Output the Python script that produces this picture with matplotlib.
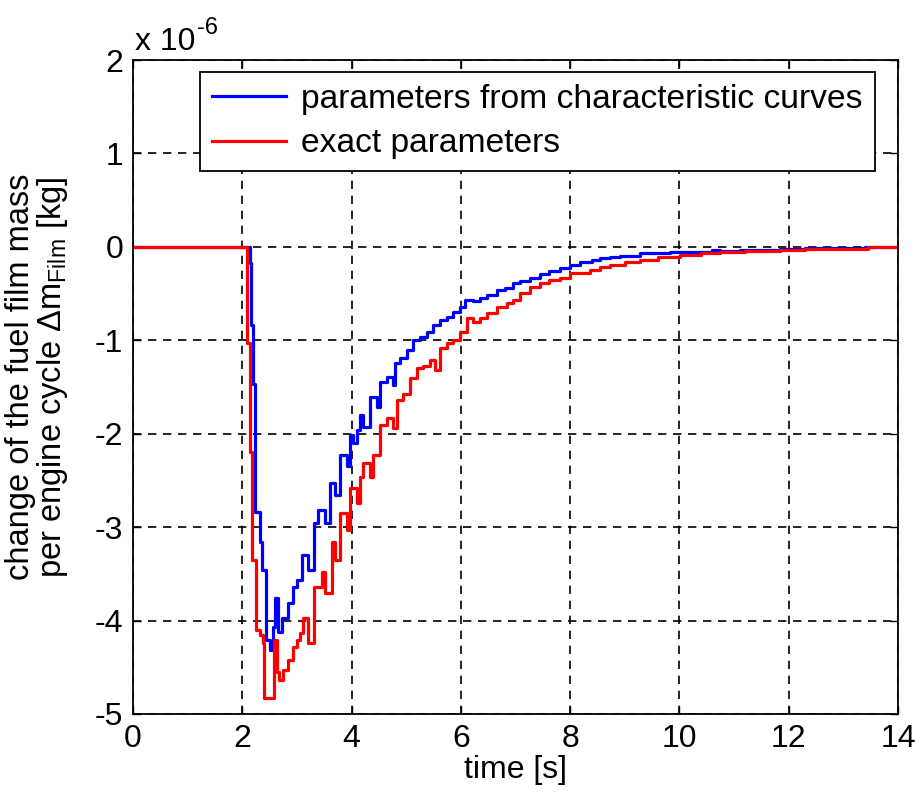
"""Fuel film mass change per engine cycle: characteristic-curve vs exact parameters."""
import matplotlib
matplotlib.use("Agg")
import matplotlib.pyplot as plt

plt.rcParams["font.family"] = ["Liberation Sans", "DejaVu Sans"]
plt.rcParams["mathtext.fontset"] = "custom"
plt.rcParams["mathtext.rm"] = "Liberation Sans"
plt.rcParams["mathtext.it"] = "Liberation Sans:italic"
plt.rcParams["axes.unicode_minus"] = False

# step breakpoints (time [s], delta m_film [x 1e-6 kg]), held until next breakpoint
t_curves = [0, 2.14, 2.15, 2.19, 2.24, 2.32, 2.36, 2.43, 2.50, 2.56, 2.60, 2.65,
            2.73, 2.84, 2.93, 3.00, 3.09, 3.20, 3.31, 3.39, 3.51, 3.61, 3.70,
            3.79, 3.92, 3.97, 4.03, 4.10, 4.15, 4.21, 4.34, 4.47, 4.52, 4.65,
            4.76, 4.80, 4.89, 5.02, 5.12, 5.25, 5.38, 5.49, 5.62, 5.75, 5.86,
            5.99, 6.08, 6.22, 6.35, 6.48, 6.66, 6.81, 6.96, 7.08, 7.27, 7.45,
            7.62, 7.82, 8.00, 8.18, 8.40, 8.55, 8.73, 8.91, 9.28, 9.60, 9.83,
            10.38, 10.60, 10.75, 11.11, 11.50, 11.84, 12.30, 12.76, 13.40, 14.0]
dm_curves = [0, -0.17, -0.84, -1.47, -2.84, -3.16, -3.46, -4.21, -4.31, -4.07,
             -3.76, -4.12, -3.97, -3.81, -3.64, -3.57, -3.30, -3.46, -2.96,
             -2.82, -2.96, -2.53, -2.66, -2.23, -2.35, -2.01, -2.10, -1.96,
             -1.80, -1.93, -1.61, -1.71, -1.45, -1.39, -1.48, -1.24, -1.19,
             -1.10, -1.00, -0.97, -0.91, -0.84, -0.78, -0.75, -0.70, -0.64,
             -0.57, -0.58, -0.55, -0.51, -0.46, -0.44, -0.39, -0.37, -0.33,
             -0.29, -0.26, -0.23, -0.19, -0.16, -0.14, -0.12, -0.11, -0.10,
             -0.07, -0.065, -0.06, -0.05, -0.03, -0.045, -0.035, -0.03, -0.02,
             -0.015, -0.01, 0, 0]

t_exact = [0, 2.09, 2.14, 2.18, 2.25, 2.32, 2.38, 2.40, 2.58, 2.63, 2.67, 2.75,
           2.84, 2.93, 3.00, 3.06, 3.11, 3.20, 3.31, 3.46, 3.51, 3.64, 3.70,
           3.79, 3.92, 3.97, 4.10, 4.15, 4.21, 4.34, 4.39, 4.52, 4.65, 4.76,
           4.83, 4.94, 5.07, 5.20, 5.31, 5.44, 5.53, 5.62, 5.75, 5.86, 5.99,
           6.11, 6.22, 6.35, 6.48, 6.66, 6.85, 6.96, 7.08, 7.27, 7.45, 7.62,
           7.82, 8.00, 8.36, 8.55, 8.73, 9.00, 9.28, 9.60, 10.01, 10.40, 10.74,
           11.20, 11.84, 12.30, 12.76, 13.45, 14.0]
dm_exact = [0, -1.03, -2.20, -3.35, -4.10, -4.15, -4.24, -4.83, -4.21, -4.55,
            -4.64, -4.53, -4.42, -4.28, -4.21, -4.13, -3.97, -4.24, -3.64,
            -3.48, -3.70, -3.16, -3.35, -2.85, -3.03, -2.58, -2.74, -2.46,
            -2.31, -2.46, -2.23, -1.91, -1.83, -1.94, -1.64, -1.58, -1.40,
            -1.30, -1.28, -1.21, -1.32, -1.08, -1.03, -1.00, -0.91, -0.76,
            -0.80, -0.76, -0.71, -0.64, -0.60, -0.57, -0.49, -0.43, -0.39,
            -0.36, -0.33, -0.28, -0.25, -0.22, -0.19, -0.165, -0.14, -0.11,
            -0.09, -0.07, -0.06, -0.045, -0.035, -0.025, -0.02, 0, 0]

labels = ["parameters from characteristic curves", "exact parameters"]
x_ticks = [0, 2, 4, 6, 8, 10, 12, 14]
y_ticks = [-5, -4, -3, -2, -1, 0, 1, 2]

fig = plt.figure(figsize=(9.15, 7.99), dpi=100)
ax = fig.add_axes([0.1454, 0.1064, 0.8360, 0.8185])

ax.plot(t_curves, dm_curves, drawstyle="steps-post", color="#0000ff",
        linewidth=2.3, label=labels[0])
ax.plot(t_exact, dm_exact, drawstyle="steps-post", color="#ff0000",
        linewidth=2.3, label=labels[1])

ax.set_xlim(0, 14)
ax.set_ylim(-5, 2)
ax.set_xticks(x_ticks)
ax.set_yticks(y_ticks)
ax.tick_params(direction="in", length=6, width=1, top=True, right=True,
               labelsize=23, pad=7)
ax.grid(True, color="black", linestyle=(0, (5, 4)), linewidth=1.2)
for sp in ax.spines.values():
    sp.set_linewidth(1.3)

ax.set_xlabel("time [s]", fontsize=23)
ax.xaxis.set_label_coords(0.5, -0.062)
ax.set_ylabel("change of the fuel film mass\n"
              r"per engine cycle $\Delta$m$_{\mathrm{Film}}$ [kg]",
              fontsize=23.5, linespacing=0.95)
ax.yaxis.set_label_coords(-0.083, 0.515)

# exponent label above the y axis ("x 10" with a raised "-6")
base = ax.text(0.003, 1.005, "x 10", transform=ax.transAxes,
               fontsize=23, ha="left", va="bottom")
ax.annotate("-6", xy=(1, 1), xycoords=base, xytext=(1, -9),
            textcoords="offset points", fontsize=17, ha="left", va="bottom")

leg = ax.legend(loc="upper left", bbox_to_anchor=(0.0876, 0.982),
                fontsize=24.2, fancybox=False, framealpha=1, edgecolor="black",
                handlelength=2.2, handletextpad=0.45, labelspacing=0.4,
                borderpad=0.36, borderaxespad=0)
leg.get_frame().set_linewidth(1.3)

fig.savefig("out.png", dpi=100)
